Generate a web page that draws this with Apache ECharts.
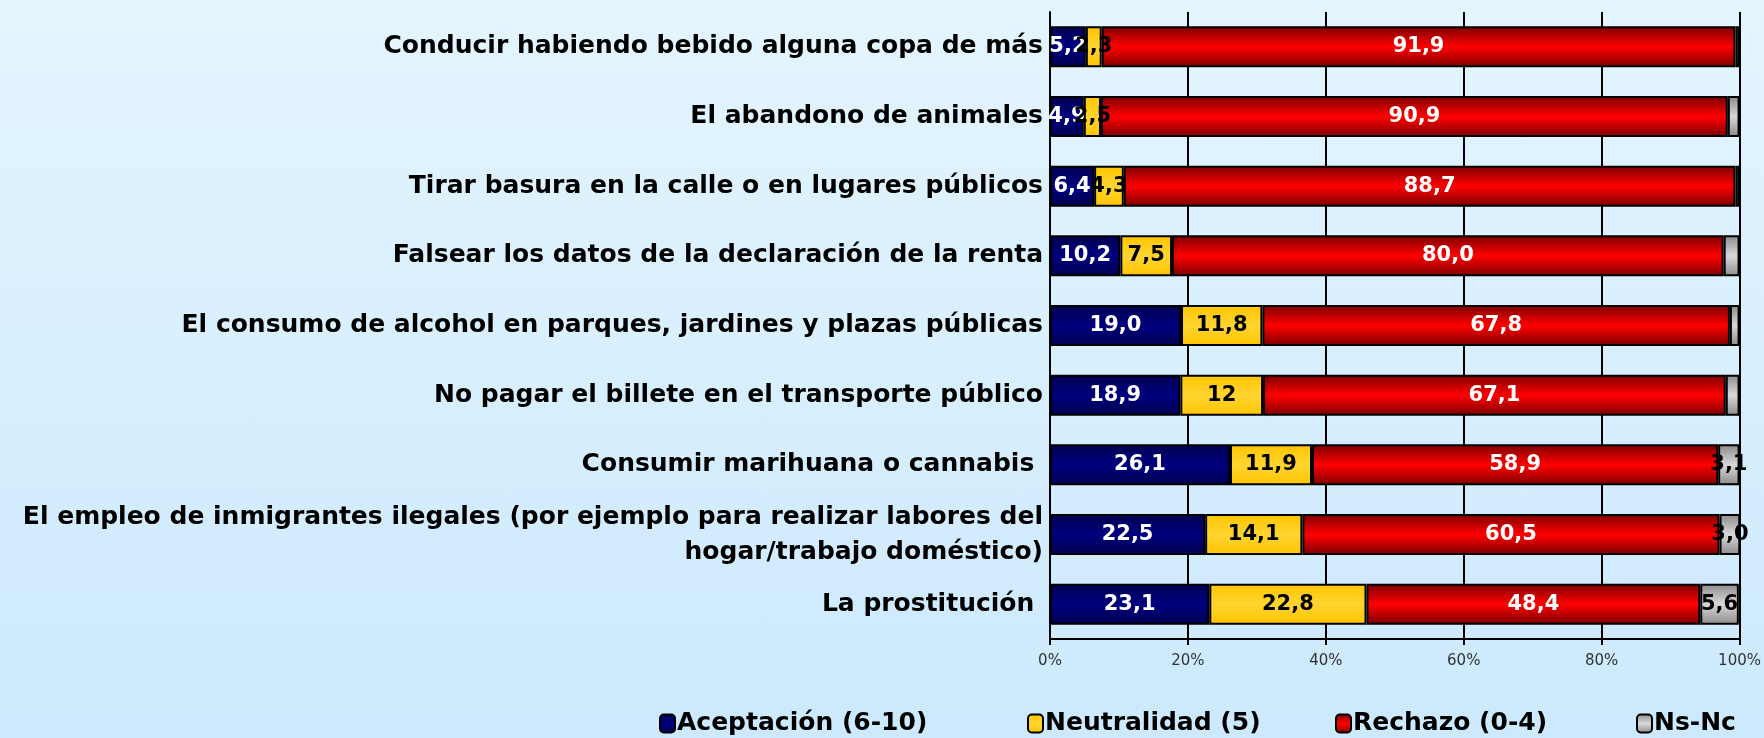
<!DOCTYPE html>
<html lang="es">
<head>
    <meta charset="UTF-8">
    <title>Aceptación / rechazo de conductas</title>
    <script src="https://cdn.jsdelivr.net/npm/echarts@6/dist/echarts.min.js"></script>
    <style>
        html, body {
            margin: 0;
            padding: 0;
        }
        #main {
            width: 1764px;
            height: 738px;
            background: linear-gradient(180deg, #e4f5fe 0%, #cce9fd 100%);
        }
    </style>
</head>
<body>
<div id="main"></div>
<script>
    // categorías (de arriba a abajo)
    var categories = [
        'Conducir habiendo bebido alguna copa de más',
        'El abandono de animales',
        'Tirar basura en la calle o en lugares públicos',
        'Falsear los datos de la declaración de la renta',
        'El consumo de alcohol en parques, jardines y plazas públicas',
        'No pagar el billete en el transporte público',
        'Consumir marihuana o cannabis ',
        'El empleo de inmigrantes ilegales (por ejemplo para realizar labores del\nhogar/trabajo doméstico)',
        'La prostitución '
    ];

    var aceptacion  = [5.2, 4.9, 6.4, 10.2, 19.0, 18.9, 26.1, 22.5, 23.1];
    var neutralidad = [2.3, 2.5, 4.3, 7.5, 11.8, 12, 11.9, 14.1, 22.8];
    var rechazo     = [91.9, 90.9, 88.7, 80.0, 67.8, 67.1, 58.9, 60.5, 48.4];
    var nsnc        = [0.6, 1.7, 0.6, 2.3, 1.4, 2.0, 3.1, 3.0, 5.6];

    var xTicks = [0, 20, 40, 60, 80, 100];

    var FONT = 'DejaVu Sans';

    function vgrad(edge, mid) {
        return new echarts.graphic.LinearGradient(0, 0, 0, 1, [
            {offset: 0, color: edge},
            {offset: 0.5, color: mid},
            {offset: 1, color: edge}
        ]);
    }

    function fmt1(p) {
        return p.value.toFixed(1).replace('.', ',');
    }

    function barSeries(name, data, fill, labelColor, formatter) {
        return {
            name: name,
            type: 'bar',
            stack: 'total',
            barWidth: 41,
            data: data,
            itemStyle: {
                color: fill,
                borderColor: '#000',
                borderWidth: 2
            },
            label: {
                show: true,
                position: 'inside',
                color: labelColor,
                fontFamily: FONT,
                fontWeight: 'bold',
                fontSize: 21,
                formatter: formatter
            }
        };
    }

    var chart = echarts.init(document.getElementById('main'));

    var legendNames = ['Aceptación (6-10)', 'Neutralidad (5)', 'Rechazo (0-4)', 'Ns-Nc'];
    var legendLeft = [654, 1022, 1330, 1631];

    var legends = legendNames.map(function (n, i) {
        return {
            data: [n],
            left: legendLeft[i],
            top: 706,
            itemWidth: 15,
            itemHeight: 18,
            itemGap: 0,
            textStyle: {
                fontFamily: FONT,
                fontWeight: 'bold',
                fontSize: 25,
                color: '#000',
                padding: [0, 0, 0, -3]
            }
        };
    });

    var option = {
        animation: false,
        backgroundColor: 'transparent',
        legend: legends,
        grid: {
            left: 1050,
            right: 23,
            top: 12,
            bottom: 99
        },
        xAxis: {
            type: 'value',
            min: 0,
            max: 100,
            interval: 20,
            axisLine: {show: true, lineStyle: {color: '#000', width: 2}},
            axisTick: {show: true, length: 6, lineStyle: {color: '#000', width: 2}},
            splitLine: {show: true, lineStyle: {color: '#000', width: 2}},
            axisLabel: {
                color: '#333',
                fontFamily: FONT,
                fontSize: 15,
                margin: 15,
                formatter: function (v) {
                    return xTicks.indexOf(v) >= 0 ? v + '%' : '';
                }
            }
        },
        yAxis: {
            type: 'category',
            inverse: true,
            data: categories,
            axisLine: {show: true, lineStyle: {color: '#000', width: 2}},
            axisTick: {show: false},
            axisLabel: {
                color: '#000',
                fontFamily: FONT,
                fontWeight: 'bold',
                fontSize: 25,
                lineHeight: 35,
                margin: 7,
                align: 'right'
            }
        },
        series: [
            barSeries('Aceptación (6-10)', aceptacion, vgrad('#00004e', '#000080'), '#fff', fmt1),
            barSeries('Neutralidad (5)', neutralidad, vgrad('#ffc400', '#ffd530'), '#000', function (p) {
                return String(p.value).replace('.', ',');
            }),
            barSeries('Rechazo (0-4)', rechazo, vgrad('#7a0000', '#ff0000'), '#fff', fmt1),
            barSeries('Ns-Nc', nsnc, vgrad('#8a8a8a', '#d8d8d8'), '#000', function (p) {
                return p.value >= 3 ? fmt1(p) : '';
            })
        ]
    };

    chart.setOption(option);
</script>
</body>
</html>
